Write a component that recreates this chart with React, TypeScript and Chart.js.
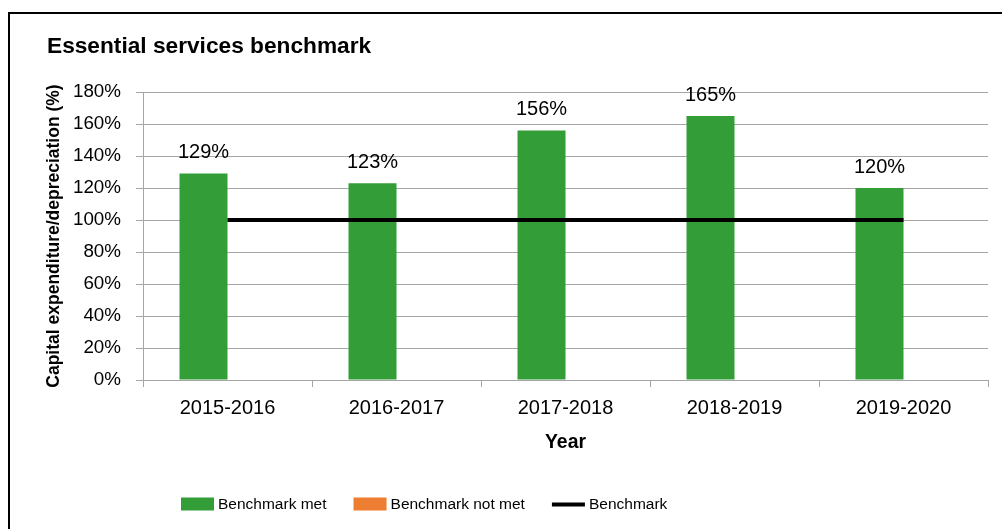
import React, { useEffect, useRef } from 'react';
import { Chart, registerables } from 'chart.js';

Chart.register(...registerables);

const categories = ['2015-2016', '2016-2017', '2017-2018', '2018-2019', '2019-2020'];
const metValues = [129, 123, 156, 165, 120];
const notMetValues: (number | null)[] = [null, null, null, null, null];
const benchmarkValues = [100, 100, 100, 100, 100];
const yMin = 0;
const yMax = 180;
const yStep = 20;
const titleText = 'Essential services benchmark';
const yAxisTitle = 'Capital expenditure/depreciation (%)';
const xAxisTitle = 'Year';
const legendLabels = ['Benchmark met', 'Benchmark not met', 'Benchmark'];

const FONT = "'Liberation Sans', Arial, sans-serif";
const GREEN = '#339E37';
const ORANGE = '#ED7D31';
const GRID = '#A6A6A6';

const dataLabelPlugin = {
  id: 'dataLabels',
  afterDatasetsDraw(chart: any) {
    const ctx = chart.ctx;
    const meta = chart.getDatasetMeta(0);
    ctx.save();
    ctx.font = `20px ${FONT}`;
    ctx.fillStyle = '#000';
    ctx.textAlign = 'center';
    ctx.textBaseline = 'middle';
    meta.data.forEach((el: any, i: number) => {
      const v = chart.data.datasets[0].data[i];
      if (v == null) return;
      ctx.fillText(`${v}%`, el.x, el.y - 21);
    });
    ctx.restore();
  },
};

const titleLegendPlugin = {
  id: 'titleLegend',
  afterDraw(chart: any) {
    const ctx = chart.ctx;
    ctx.save();
    // title
    ctx.font = `bold 22.7px ${FONT}`;
    ctx.fillStyle = '#000';
    ctx.textAlign = 'left';
    ctx.textBaseline = 'alphabetic';
    ctx.fillText(titleText, 37, 39);

    // legend
    ctx.font = `15.5px ${FONT}`;
    ctx.textBaseline = 'middle';
    let x = 171;
    const yMid = 490.5;
    const boxW = 33;
    const boxH = 13;
    const styles = [
      { type: 'box', color: GREEN },
      { type: 'box', color: ORANGE },
      { type: 'line', color: '#000' },
    ];
    legendLabels.forEach((label, i) => {
      const s = styles[i];
      if (s.type === 'box') {
        ctx.fillStyle = s.color;
        ctx.fillRect(x, yMid - boxH / 2 - 0.5, boxW, boxH);
      } else {
        ctx.strokeStyle = s.color;
        ctx.lineWidth = 4;
        ctx.beginPath();
        ctx.moveTo(x, yMid);
        ctx.lineTo(x + boxW, yMid);
        ctx.stroke();
      }
      x += boxW + 4;
      ctx.fillStyle = '#000';
      ctx.fillText(label, x, yMid);
      x += ctx.measureText(label).width + 27;
    });
    ctx.restore();
  },
};

export default function App() {
  const canvasRef = useRef<HTMLCanvasElement | null>(null);

  useEffect(() => {
    if (!canvasRef.current) return;
    const chart = new Chart(canvasRef.current, {
      type: 'bar',
      data: {
        labels: categories,
        datasets: [
          {
            type: 'bar',
            label: legendLabels[0],
            data: metValues,
            backgroundColor: GREEN,
            borderWidth: 0,
            categoryPercentage: 0.568,
            barPercentage: 1,
            order: 2,
          },
          {
            type: 'bar',
            label: legendLabels[1],
            data: notMetValues,
            backgroundColor: ORANGE,
            borderWidth: 0,
            categoryPercentage: 0.568,
            barPercentage: 1,
            order: 2,
          },
          {
            type: 'line',
            label: legendLabels[2],
            data: benchmarkValues,
            borderColor: '#000',
            backgroundColor: '#000',
            borderWidth: 4,
            pointRadius: 0,
            fill: false,
            order: 1,
          } as any,
        ],
      },
      options: {
        responsive: false,
        animation: false,
        devicePixelRatio: 1,
        layout: { padding: { left: 0, right: 12, top: 78, bottom: 0 } },
        plugins: {
          legend: { display: false },
          title: { display: false },
          tooltip: { enabled: false },
        },
        scales: {
          x: {
            offset: true,
            grid: {
              offset: true,
              drawOnChartArea: false,
              drawTicks: true,
              tickLength: 7,
              color: GRID,
              lineWidth: 1,
            },
            border: { display: true, color: GRID, width: 1 },
            ticks: {
              color: '#000',
              font: { family: FONT, size: 20 },
              padding: 9,
              maxRotation: 0,
            },
            title: {
              display: true,
              text: xAxisTitle,
              color: '#000',
              font: { family: FONT, size: 19.4, weight: 'bold' },
              padding: { top: 0, bottom: 72.6 },
            },
            afterFit(scale: any) {
              scale.height = 147;
            },
          },
          y: {
            min: yMin,
            max: yMax,
            grid: {
              color: GRID,
              lineWidth: 1,
              drawTicks: true,
              tickLength: 7,
            },
            border: { display: true, color: GRID, width: 1 },
            ticks: {
              stepSize: yStep,
              color: '#000',
              font: { family: FONT, size: 18.8 },
              padding: 15,
              callback: (v: any) => `${v}%`,
            },
            title: {
              display: true,
              text: yAxisTitle,
              color: '#000',
              font: { family: FONT, size: 17.5, weight: 'bold' },
              padding: { top: 33.5, bottom: 0 },
            },
            afterFit(scale: any) {
              scale.width = 133;
            },
          },
        },
      },
      plugins: [dataLabelPlugin, titleLegendPlugin],
    } as any);
    return () => chart.destroy();
  }, []);

  return (
    <div
      style={{
        position: 'absolute',
        left: 8,
        top: 12,
        width: 992,
        height: 515,
        borderTop: '2px solid #000',
        borderLeft: '2px solid #000',
        overflow: 'hidden',
        background: '#fff',
      }}
    >
      <canvas ref={canvasRef} width={990} height={513} style={{ display: 'block', width: 990, height: 513 }} />
    </div>
  );
}
